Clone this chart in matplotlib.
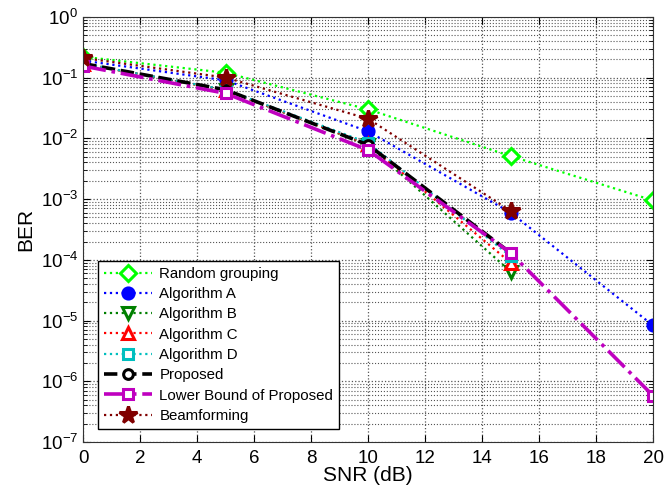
import numpy as np
import matplotlib
matplotlib.use('Agg')
import matplotlib.pyplot as plt
import matplotlib.ticker as ticker

plt.rcParams['font.family'] = ['Liberation Sans', 'DejaVu Sans']

snr = [0, 5, 10, 15, 20]

ber_random = [0.22, 0.12, 0.030, 0.0051, 0.00095]
ber_alg_a = [0.19, 0.09, 0.013, 0.00060, 8.3e-6]
ber_alg_b = [0.17, 0.062, 0.0078, 6.4e-5, np.nan]
ber_alg_c = [0.17, 0.062, 0.0080, 9.0e-5, np.nan]
ber_alg_d = [0.17, 0.063, 0.0084, 1.15e-4, np.nan]
ber_proposed = [0.17, 0.063, 0.0078, 1.3e-4, np.nan]
ber_lower = [0.155, 0.055, 0.0064, 1.3e-4, 5.8e-7]
ber_beam = [0.21, 0.10, 0.021, 0.00064, np.nan]

labels = ['Random grouping', 'Algorithm A', 'Algorithm B', 'Algorithm C',
          'Algorithm D', 'Proposed', 'Lower Bound of Proposed', 'Beamforming']

fig = plt.figure(figsize=(6.65, 4.95), dpi=100)
ax = fig.add_axes([0.125, 0.107, 0.857, 0.859])

# (data, color, linestyle, marker, facecolor, linewidth, markersize)
styles = [
    (ber_random, '#00ff00', ':', 'D', 'white', 1.6, 8),
    (ber_alg_a, '#0000ff', ':', 'o', '#0000ff', 1.6, 8),
    (ber_alg_b, '#008000', ':', 'v', 'white', 1.6, 9),
    (ber_alg_c, '#ff0000', ':', '^', 'white', 1.6, 9),
    (ber_alg_d, '#00bfbf', ':', 's', 'white', 1.6, 7),
    (ber_proposed, 'black', '--', 'o', 'white', 2.6, 7),
    (ber_lower, '#bf00bf', '-.', 's', 'white', 2.6, 7),
    (ber_beam, '#800000', ':', '*', '#800000', 1.6, 13),
]

for (y, c, ls, mk, fc, lw, ms), lab in zip(styles, labels):
    ax.semilogy(snr, y, linestyle=ls, color=c, marker=mk, markerfacecolor=fc,
                markeredgecolor=c, markeredgewidth=2.2, markersize=ms,
                linewidth=lw, label=lab)

ax.set_xlim(0, 20)
ax.set_ylim(1e-7, 1)
ax.xaxis.set_major_locator(ticker.MultipleLocator(2))
ax.yaxis.set_major_locator(ticker.LogLocator(base=10, numticks=10))
ax.yaxis.set_minor_locator(ticker.LogLocator(base=10, subs=np.arange(2, 10), numticks=20))
ax.yaxis.set_minor_formatter(ticker.NullFormatter())

ax.grid(True, which='major', linestyle=':', color='#555555', linewidth=0.9)
ax.grid(True, which='minor', axis='y', linestyle=':', color='#555555', linewidth=0.8)

ax.tick_params(which='both', direction='in', top=True, right=True, labelsize=13.5)
ax.tick_params(which='major', length=5)
ax.tick_params(which='minor', length=3)
ax.tick_params(axis='x', pad=6)
for s in ax.spines.values():
    s.set_color('#333333')

ax.set_xlabel('SNR (dB)', fontsize=15, labelpad=-1)
ax.set_ylabel('BER', fontsize=15, labelpad=4)

leg = ax.legend(loc='lower left', bbox_to_anchor=(0.026, 0.031), fontsize=10.8,
                frameon=True, fancybox=False, edgecolor='black', framealpha=1,
                borderaxespad=0, handlelength=3.2, labelspacing=0.42,
                borderpad=0.4, handletextpad=0.5)
leg.get_frame().set_linewidth(1.0)

fig.savefig('out.png', dpi=100)
